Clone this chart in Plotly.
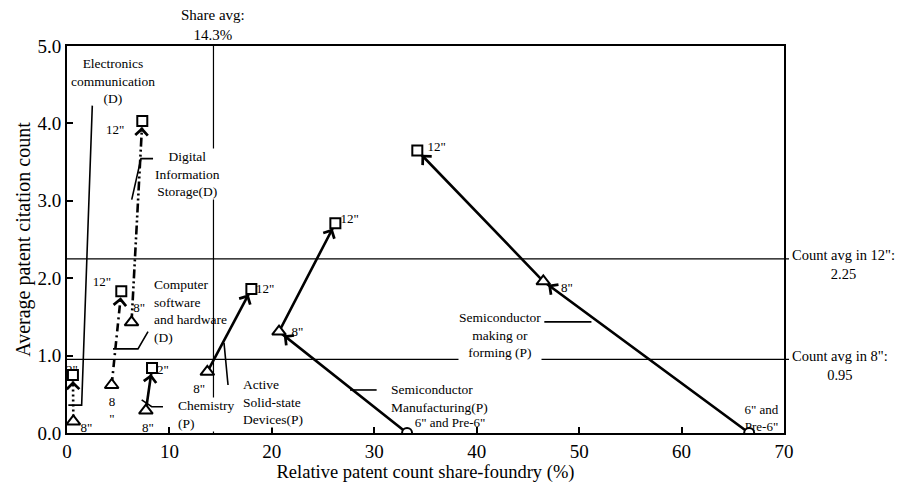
import plotly.graph_objects as go

# ---------------- data ----------------
semi_making_x = [66.6, 46.5, 34.2]      # 6" and pre-6", 8", 12"
semi_making_y = [0.0, 1.96, 3.65]
semi_mfg_x = [33.2, 20.7, 26.2]
semi_mfg_y = [0.0, 1.31, 2.71]
active_x = [13.7, 18.0]                  # 8", 12"
active_y = [0.79, 1.86]
chem_x = [7.7, 8.3]
chem_y = [0.29, 0.84]
csh_x = [4.36, 5.3]
csh_y = [0.62, 1.83]
dis_x = [6.3, 7.35]
dis_y = [1.43, 4.03]
elec_x = [0.62, 0.58]
elec_y = [0.15, 0.75]

share_avg = 14.3
count_avg_12 = 2.25
count_avg_8 = 0.95

x_ticks = [0, 10, 20, 30, 40, 50, 60, 70]
y_ticks = [0, 1, 2, 3, 4, 5]

# ---------------- layout geometry ----------------
W, H = 905, 490
ML, MT = 59, 38           # page body adds 8px offset
PW, PH = 717, 387
MR, MB = W - ML - PW, H - MT - PH
XR, YR = [0, 70], [0, 5]
FONT = "Liberation Serif"

fig = go.Figure()

# point labels (drawn first so white-filled markers sit over them)
pt_lbl_x = [36.1, 48.8, 67.8, 27.6, 22.5, 37.4, 19.35, 12.9, 9.05, 7.9,
            0.15, 1.9, 4.7, 7.05, 3.4, 4.39]
pt_lbl_y = [3.69, 1.86, 0.18, 2.76, 1.30, 0.12, 1.85, 0.56, 0.80, 0.05,
            0.80, 0.05, 3.91, 1.60, 1.94, 0.28]
pt_lbl_t = ['12"', '8"', '6" and<br>Pre-6"', '12"', '8"', '6" and Pre-6"', '12"', '8"',
            '12"', '8"', '12"', '8"', '12"', '8"', '12"', '8<br>"']
fig.add_trace(go.Scatter(x=pt_lbl_x, y=pt_lbl_y, mode="text", text=pt_lbl_t,
                         textfont=dict(family=FONT, size=13, color="black"),
                         hoverinfo="skip", showlegend=False))

# leader lines of the series labels
leaders = [
    ([2.47, 1.43, 0.13], [4.23, 0.36, 0.36]),
    ([8.40, 7.22, 6.32], [3.545, 3.545, 3.015]),
    ([7.91, 6.93, 4.49], [1.31, 1.087, 1.087]),
    ([9.37, 8.27, 7.29], [0.34, 0.34, 0.427]),
    ([15.72, 15.33], [0.62, 1.164]),
    ([30.23, 27.63], [0.556, 0.556]),
    ([46.6, 51.2], [1.436, 1.436]),
]
for lx, ly in leaders:
    fig.add_trace(go.Scatter(x=lx, y=ly, mode="lines",
                             line=dict(color="black", width=1.6),
                             hoverinfo="skip", showlegend=False))

series = [
    (semi_making_x, semi_making_y, "solid", True),
    (semi_mfg_x, semi_mfg_y, "solid", True),
    (active_x, active_y, "solid", False),
    (chem_x, chem_y, "solid", False),
    (csh_x, csh_y, "8px,4px,2px,4px", False),
    (dis_x, dis_y, "9px,3px,2px,3px,2px,3px", False),
    (elec_x, elec_y, "2px,3px", False),
]

def px(xv, yv):
    return ((xv - XR[0]) / (XR[1] - XR[0]) * PW, (yv - YR[0]) / (YR[1] - YR[0]) * PH)

annotations = []
for xs, ys, dash, has6 in series:
    fig.add_trace(go.Scatter(x=xs, y=ys, mode="lines",
                             line=dict(color="black", width=2.6, dash=dash),
                             hoverinfo="skip", showlegend=False))
    for i in range(1, len(xs)):
        x0, y0 = px(xs[i - 1], ys[i - 1])
        x1, y1 = px(xs[i], ys[i])
        dx, dy = x1 - x0, y1 - y0
        L = (dx * dx + dy * dy) ** 0.5
        stem = min(12, L * 0.5)
        annotations.append(dict(x=xs[i], y=ys[i], xref="x", yref="y",
                                ax=-dx / L * stem, ay=dy / L * stem,
                                showarrow=True, arrowhead=4, arrowsize=1.1,
                                arrowwidth=2.2, arrowcolor="black",
                                standoff=6, text=""))
    if has6:
        fig.add_trace(go.Scatter(x=[xs[0]], y=[ys[0]], mode="markers",
                                 marker=dict(symbol="circle", size=10, color="white",
                                             line=dict(color="black", width=2)),
                                 hoverinfo="skip", showlegend=False))
        tri, sq = 1, 2
    else:
        tri, sq = 0, 1
    fig.add_trace(go.Scatter(x=[xs[tri]], y=[ys[tri]], mode="markers",
                             marker=dict(symbol="triangle-up", size=12, color="white",
                                         line=dict(color="black", width=2)),
                             hoverinfo="skip", showlegend=False))
    fig.add_trace(go.Scatter(x=[xs[sq]], y=[ys[sq]], mode="markers",
                             marker=dict(symbol="square", size=10, color="white",
                                         line=dict(color="black", width=2)),
                             hoverinfo="skip", showlegend=False))

# series name labels
lab_font = dict(family=FONT, size=13.5, color="black")
names = [
    ("Electronics<br>communication<br>(D)", 4.49, 4.55, "center", "center", None),
    ("Digital<br>Information<br>Storage(D)", 11.8, 3.34, "center", "center", "white"),
    ("Computer<br>software<br>and hardware<br>(D)", 8.35, 1.58, "left", "left", None),
    ("Chemistry<br>(P)", 10.7, 0.235, "left", "left", "white"),
    ("Active<br>Solid-state<br>Devices(P)", 17.05, 0.40, "left", "left", "white"),
    ("Semiconductor<br>Manufacturing(P)", 31.5, 0.45, "left", "left", "white"),
    ("Semiconductor<br>making or<br>forming (P)", 42.3, 1.27, "center", "center", "white"),
]
for t, x, y, xa, al, bg in names:
    annotations.append(dict(text=t, x=x, y=y, xref="x", yref="y", showarrow=False,
                            xanchor=xa, align=al, yanchor="middle", font=lab_font,
                            bgcolor=bg if bg else "rgba(0,0,0,0)", borderpad=0))

avg_font = dict(family=FONT, size=14.5, color="black")
annotations += [
    dict(text="Share avg:<br>%.1f%%" % share_avg, x=share_avg, xref="x",
         y=1.053, yref="paper", xanchor="center", yanchor="middle",
         showarrow=False, font=dict(family=FONT, size=15, color="black"), align="center"),
    dict(text='Count avg in 12":<br>%.2f' % count_avg_12, x=1.008, xref="paper",
         y=count_avg_12 - 0.07, yref="y", xanchor="left", yanchor="middle",
         showarrow=False, font=avg_font, align="center"),
    dict(text='Count avg in 8":<br>%.2f' % count_avg_8, x=1.008, xref="paper",
         y=count_avg_8 - 0.08, yref="y", xanchor="left", yanchor="middle",
         showarrow=False, font=avg_font, align="center"),
]

shapes = [
    dict(type="line", xref="paper", yref="y", x0=0, x1=1.007, y0=count_avg_12,
         y1=count_avg_12, line=dict(color="black", width=1.2), layer="below"),
    dict(type="line", xref="paper", yref="y", x0=0, x1=1.007, y0=count_avg_8,
         y1=count_avg_8, line=dict(color="black", width=1.2), layer="below"),
    dict(type="line", xref="x", yref="paper", x0=share_avg, x1=share_avg, y0=0,
         y1=1, line=dict(color="black", width=1.2), layer="below"),
]

fig.update_layout(
    width=W, height=H,
    margin=dict(l=ML, r=MR, t=MT, b=MB),
    paper_bgcolor="white", plot_bgcolor="white",
    font=dict(family=FONT, color="black"),
    annotations=annotations, shapes=shapes, showlegend=False,
    xaxis=dict(range=XR, tickvals=x_ticks, ticktext=[str(v) for v in x_ticks],
               showgrid=False, zeroline=False, showline=True, mirror=True,
               linecolor="black", linewidth=2, ticks="inside", ticklen=6,
               tickcolor="black", tickwidth=1.5,
               tickfont=dict(family=FONT, size=19),
               title=dict(text="Relative patent count share-foundry (%)",
                          font=dict(family=FONT, size=18.5), standoff=2)),
    yaxis=dict(range=YR, tickvals=y_ticks, ticktext=["%.1f" % v for v in y_ticks],
               showgrid=False, zeroline=False, showline=True, mirror=True,
               linecolor="black", linewidth=2, ticks="inside", ticklen=6,
               tickcolor="black", tickwidth=1.5,
               tickfont=dict(family=FONT, size=19),
               title=dict(text="Average patent citation count",
                          font=dict(family=FONT, size=20), standoff=1)),
)

fig.write_html("out.html")
